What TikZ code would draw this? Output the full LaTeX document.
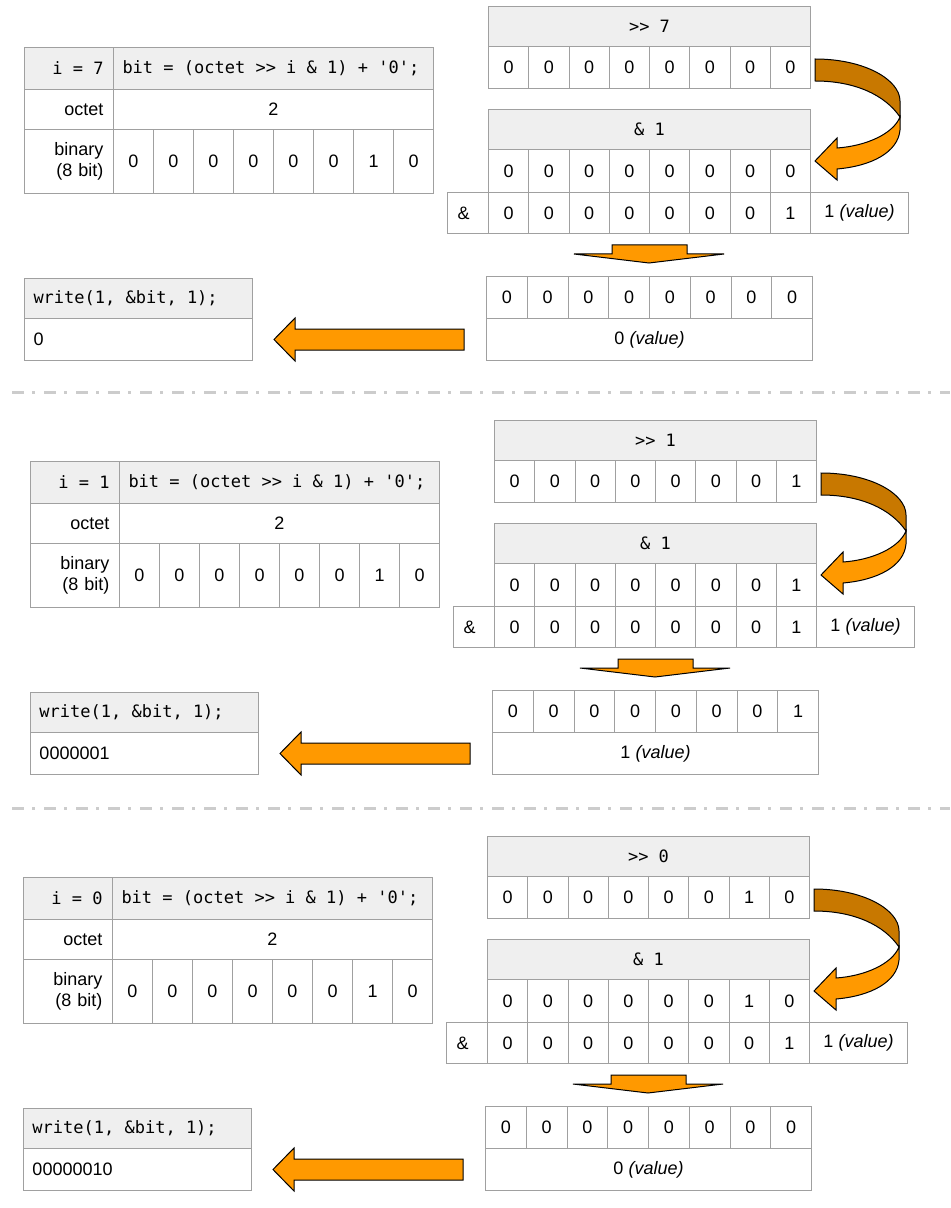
\documentclass[tikz,border=0pt]{standalone}
\usepackage{fontspec}
\setmainfont{Liberation Sans}
\setmonofont{DejaVu Sans Mono}
\usepackage{tikz}
\usetikzlibrary{calc}
\definecolor{cellline}{HTML}{A0A0A0}
\definecolor{headfill}{HTML}{EFEFEF}
\definecolor{arroworange}{HTML}{FF9900}
\definecolor{arrowbrown}{HTML}{C87800}
\definecolor{sepgray}{HTML}{CCCCCC}
\newcommand{\cellfont}{\fontsize{9}{10.5}\selectfont}
\newcommand{\codefont}{\ttfamily\fontsize{8.5}{10}\selectfont}
\newcommand{\code}[1]{\mbox{\spaceskip=0.602em\relax #1}}
\tikzstyle{cell} = [draw=cellline, line width=0.5pt, rectangle, inner sep=0pt,
anchor=north west, font=\cellfont]
\tikzstyle{bit} = [cell, minimum width=20pt]
\tikzstyle{lbl} = [cell, align=right, text width=34.5pt, inner xsep=5pt]
\tikzstyle{head} = [cell, fill=headfill, font=\codefont]
\tikzstyle{headlbl} = [head, align=right, text width=34.5pt, inner xsep=5pt, minimum height=21pt]
\tikzstyle{headleft} = [head, align=left, inner xsep=4.5pt]
\tikzstyle{blockarrow} = [fill=arroworange, draw=black, line width=0.5pt]
\tikzstyle{backarrow} = [fill=arrowbrown, draw=black, line width=0.5pt]
\tikzstyle{sepline} = [draw=sepgray, line width=1.5pt,
dash pattern=on 6pt off 4pt on 1.5pt off 4.5pt]

% #1 name, #2 #3 shift, #4 i, #5 shifted bits, #6 result bits, #7 result, #8 written
\newcommand{\bitround}[8]{%
\begin{scope}[shift={(#2,#3)}]
    % octet table
    \node[headlbl] (#1-i) at (24,47) {\code{i = #4}};
    \node[headleft, text width=151pt, minimum height=21pt] (#1-code) at (113,47)
        {\code{bit = (octet >> i \& 1) + \textquotesingle 0\textquotesingle;}};
    \node[lbl, minimum height=20pt] (#1-octl) at (24,89) {octet};
    \node[cell, minimum width=160pt, minimum height=20pt] (#1-octv) at (113,89) {2};
    \node[lbl, minimum height=32pt] (#1-binl) at (24,129) {binary\\(8 bit)};
    \foreach \b [count=\k from 0] in {0,0,0,0,0,0,1,0}
        \node[bit, minimum height=32pt] (#1-bin\k) at ({113+40*\k},129) {\b};
    % shift and mask
    \node[head, minimum width=161pt, minimum height=20pt] (#1-shh) at (488,6) {\code{>> #4}};
    \foreach \b [count=\k from 0] in {#5}
        \node[bit, minimum width=20.125pt, minimum height=21pt] (#1-sh\k) at ({488+40.25*\k},46) {\b};
    \node[head, minimum width=161pt, minimum height=20pt] (#1-andh) at (488,109) {\code{\& 1}};
    \foreach \b [count=\k from 0] in {#5}
        \node[bit, minimum width=20.125pt, minimum height=21.5pt] (#1-and\k) at ({488+40.25*\k},149) {\b};
    \node[cell, align=left, text width=10.5pt, inner xsep=5pt, minimum height=20.5pt] (#1-amp) at (447,192) {\&};
    \foreach \b [count=\k from 0] in {0,0,0,0,0,0,0,1}
        \node[bit, minimum width=20.125pt, minimum height=20.5pt] (#1-mask\k) at ({488+40.25*\k},192) {\b};
    \node[cell, minimum width=49pt, minimum height=20.5pt] (#1-maskv) at (810,192) {1 \textit{(value)}};
    % result
    \foreach \b [count=\k from 0] in {#6}
        \node[bit, minimum width=20.375pt, minimum height=21pt] (#1-res\k) at ({486+40.75*\k},276) {\b};
    \node[cell, minimum width=163pt, minimum height=21pt] (#1-resv) at (486,318) {#7 \textit{(value)}};
    % write
    \node[headleft, text width=105pt, minimum height=20pt] (#1-wr) at (24,278) {\code{write(1, \&bit, 1);}};
    \node[cell, align=left, text width=105pt, inner xsep=4.5pt, minimum height=21pt] (#1-out) at (24,318) {#8};
    % arrows
    \draw[backarrow] (815,59) .. controls (865,59) and (900,80) .. (900,101) -- (900,117)
        .. controls (885,95) and (855,81) .. (815,81) -- cycle;
    \draw[blockarrow] (900,117) -- (900,130) .. controls (898,152) and (872,166) .. (837,169)
        -- (837,180) -- (815,161) -- (837,138) -- (837,148)
        .. controls (866,146) and (893,134) .. (900,117) -- cycle;
    \draw[blockarrow] (612,245) -- (687,245) -- (687,254) -- (724,254) -- (649,263)
        -- (574,254) -- (612,254) -- cycle;
    \draw[blockarrow] ($(#1-out.east)+(21,0)$) -- ++(21,-21.5) -- ++(0,11) -- ++(169,0)
        -- ++(0,21) -- ++(-169,0) -- ++(0,11) -- cycle;
\end{scope}
}

\begin{document}
\begin{tikzpicture}[x=0.5pt, y=-0.5pt]
    \useasboundingbox (0,0) rectangle (950,1208);
    \bitround{r7}{0}{0}{7}{0,0,0,0,0,0,0,0}{0,0,0,0,0,0,0,0}{0}{0}
    \draw[sepline] (12,392) -- (950,392);
    \bitround{r1}{6}{414}{1}{0,0,0,0,0,0,0,1}{0,0,0,0,0,0,0,1}{1}{0000001}
    \draw[sepline] (12,808) -- (950,808);
    \bitround{r0}{-1}{830}{0}{0,0,0,0,0,0,1,0}{0,0,0,0,0,0,0,0}{0}{00000010}
\end{tikzpicture}
\end{document}
